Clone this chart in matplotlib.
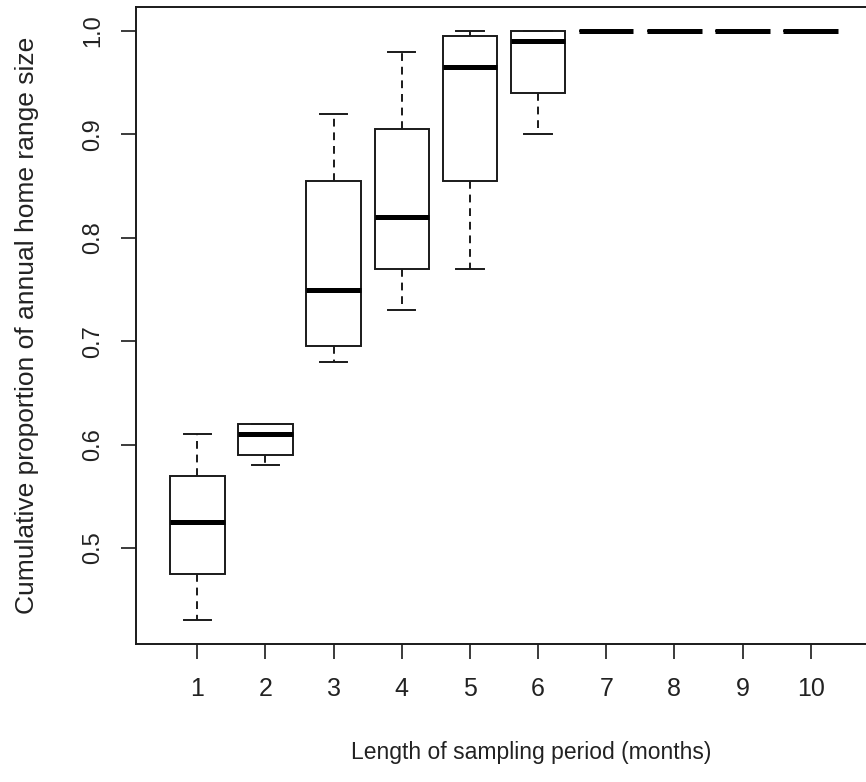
import matplotlib
matplotlib.use("Agg")
import matplotlib.pyplot as plt

# five number summaries, one entry per month
months = [1, 2, 3, 4, 5, 6, 7, 8, 9, 10]
whisker_low = [0.43, 0.58, 0.68, 0.73, 0.77, 0.90, 1.0, 1.0, 1.0, 1.0]
q1 = [0.475, 0.59, 0.695, 0.77, 0.855, 0.94, 1.0, 1.0, 1.0, 1.0]
median = [0.525, 0.61, 0.75, 0.82, 0.965, 0.99, 1.0, 1.0, 1.0, 1.0]
q3 = [0.57, 0.62, 0.855, 0.905, 0.995, 1.0, 1.0, 1.0, 1.0, 1.0]
whisker_high = [0.61, 0.62, 0.92, 0.98, 1.0, 1.0, 1.0, 1.0, 1.0, 1.0]
y_ticks = [0.5, 0.6, 0.7, 0.8, 0.9, 1.0]

plt.rcParams['font.family'] = ['Liberation Sans', 'DejaVu Sans']

fig = plt.figure(figsize=(8.66, 7.82), dpi=100)
ax = fig.add_axes([136 / 866, 138 / 782, 736 / 866, 636.6 / 782])

stats = []
for i in range(len(months)):
    stats.append({'whislo': whisker_low[i], 'q1': q1[i], 'med': median[i],
                  'q3': q3[i], 'whishi': whisker_high[i], 'fliers': []})

ink = '#1a1a1a'
ax.bxp(stats, positions=months, widths=0.8, capwidths=0.4,
       showfliers=False, patch_artist=True,
       boxprops=dict(facecolor='white', edgecolor=ink, linewidth=1.4),
       medianprops=dict(color='black', linewidth=3.6, solid_capstyle='butt'),
       whiskerprops=dict(color=ink, linewidth=1.4, linestyle=(0, (4, 3))),
       capprops=dict(color=ink, linewidth=1.4))

ax.set_xlim(0.1, 10.9)
ax.set_ylim(0.4072, 1.0228)
ax.set_xticks(months)
ax.set_xticklabels([str(m) for m in months])
ax.set_yticks(y_ticks)
ax.set_yticklabels(['%.1f' % v for v in y_ticks], rotation=90, va='center')

for s in ax.spines.values():
    s.set_linewidth(1.4)
    s.set_color(ink)

ax.tick_params(axis='both', direction='out', length=11, width=1.2,
               colors=ink, labelcolor='#222222')
ax.tick_params(axis='x', labelsize=18, pad=13)
ax.tick_params(axis='y', labelsize=17, pad=12)

ax.set_xlabel('Length of sampling period (months)', fontsize=16.5,
              color='#222222', va='center')
ax.xaxis.set_label_coords(0.5 + (531 - 504) / 736, (644 - 752) / 636.6)
ax.set_ylabel('Cumulative proportion of annual home range size', fontsize=19,
              color='#222222', va='center')
ax.yaxis.set_label_coords((27 - 136) / 736, (644 - 325) / 636.6)

fig.savefig('out.png', dpi=100)
